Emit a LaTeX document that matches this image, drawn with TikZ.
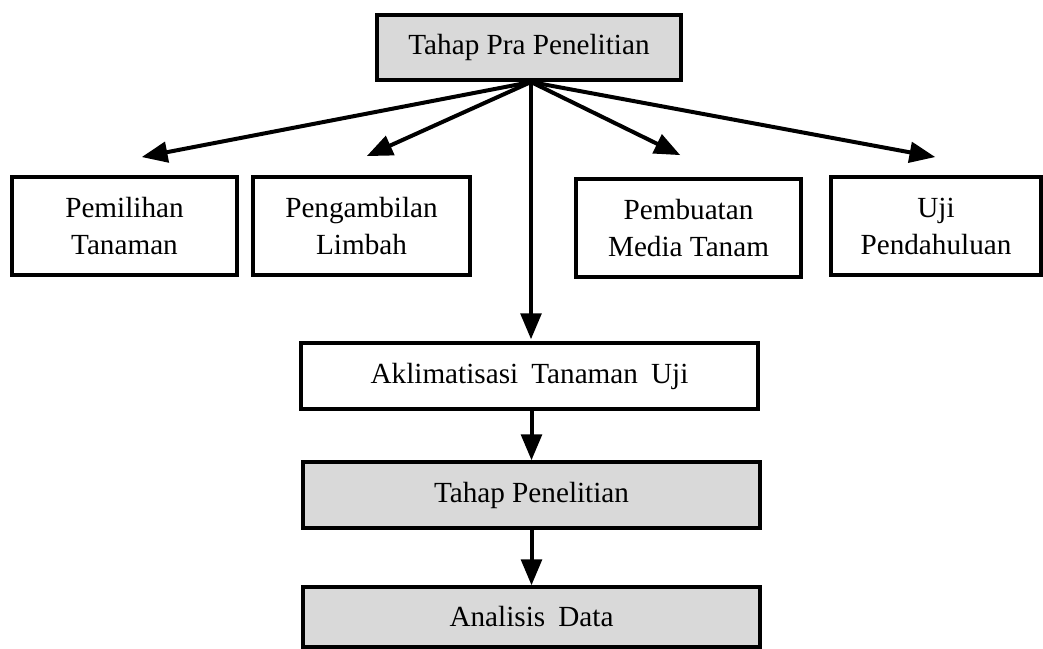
\documentclass[tikz,border=0pt]{standalone}
\usepackage{fontspec}
\setmainfont{Liberation Serif}
\usetikzlibrary{arrows}
\usetikzlibrary{positioning}

\definecolor{boxgray}{RGB}{217,217,217}

\tikzset{
  stage/.style={draw,line width=2pt,inner sep=0pt,align=center,
    font=\fontsize{14.6}{18.5}\selectfont},
  grey/.style={stage,fill=boxgray},
  flow/.style={->,line width=2pt}
}

\begin{document}
\begin{tikzpicture}[line cap=butt,line join=miter,>=triangle 45,x=0.5pt,y=-0.5pt]
\useasboundingbox (0,0) rectangle (1043,648);
% boxes
\node [grey,minimum width=152pt,minimum height=32.5pt] (pra) at (529,47.5) {Tahap Pra Penelitian};
\node [stage,minimum width=112.5pt,minimum height=49pt] (pilih) at (124.5,226) {Pemilihan\\Tanaman};
\node [stage,minimum width=108.5pt,minimum height=49pt] (ambil) at (361.5,226) {Pengambilan\\Limbah};
\node [stage,minimum width=112.5pt,minimum height=49pt] (media) at (688.5,228) {Pembuatan\\Media Tanam};
\node [stage,minimum width=105pt,minimum height=49pt] (uji) at (936,226) {Uji\\Pendahuluan};
\node [stage,minimum width=228.5pt,minimum height=33pt] (akli) at (529.5,376) {Aklimatisasi\hspace{0.45em}Tanaman\hspace{0.45em}Uji};
\node [grey,minimum width=228.5pt,minimum height=33pt] (tahap) at (531.5,495) {Tahap Penelitian};
\node [grey,minimum width=228.5pt,minimum height=30pt] (analisis) at (531.5,617) {Analisis\hspace{0.45em}Data};
% arrow ends
\coordinate (src) at (531,82);
\coordinate (e1) at (142,157);
\coordinate (e2) at (367,156);
\coordinate (e3) at (680,155);
\coordinate (e4) at (935,157);
% arrows
\draw [flow] (src) -- (e1);
\draw [flow] (src) -- (e2);
\draw [flow] (src) -- (e3);
\draw [flow] (src) -- (e4);
\draw [flow,shorten >=1pt] (src) -- (src |- akli.north);
\draw [flow] (akli.south -| tahap.north) -- (tahap.north);
\draw [flow] (tahap.south) -- (analisis.north);
\end{tikzpicture}
\end{document}
